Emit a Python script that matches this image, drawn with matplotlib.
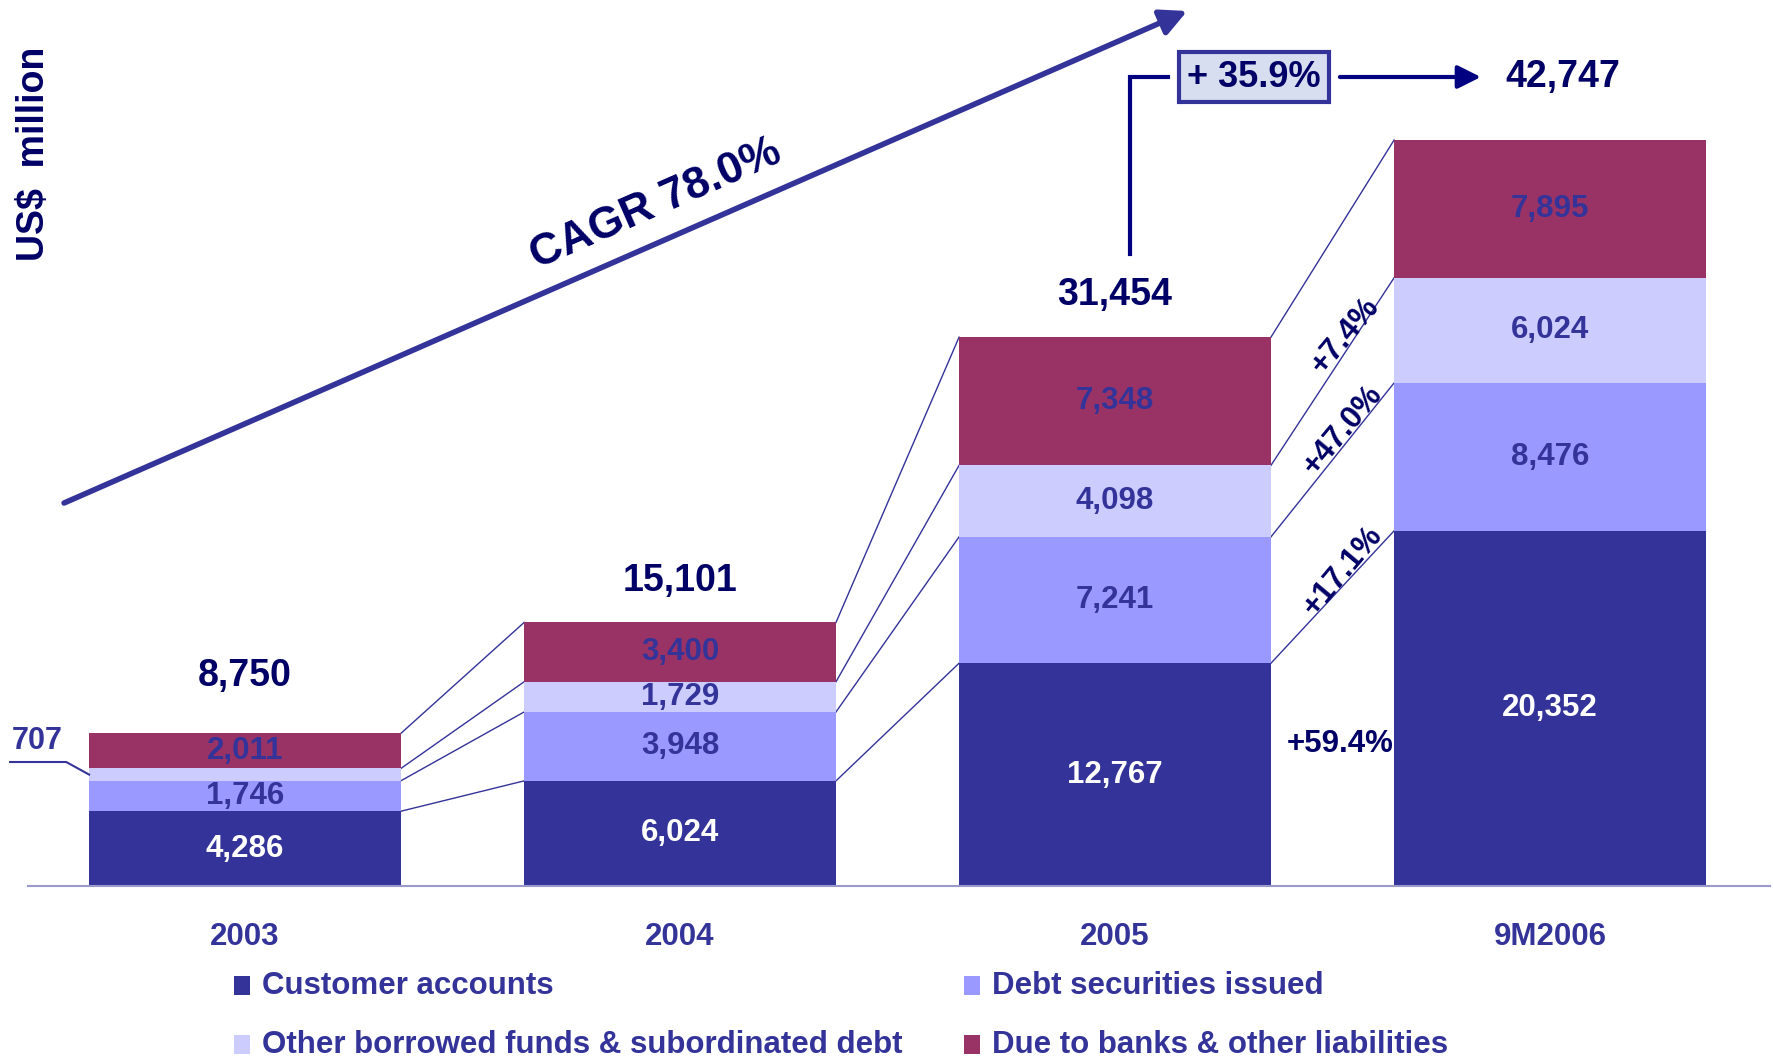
import numpy as np
import matplotlib.pyplot as plt
from matplotlib.patches import Rectangle

plt.rcParams['font.family'] = ['Liberation Sans', 'DejaVu Sans']
plt.rcParams['font.weight'] = 'bold'

# data
periods = ["2003", "2004", "2005", "9M2006"]
customer_accounts = [4286, 6024, 12767, 20352]
debt_securities = [1746, 3948, 7241, 8476]
other_borrowed = [707, 1729, 4098, 6024]
due_to_banks = [2011, 3400, 7348, 7895]
totals = ["8,750", "15,101", "31,454", "42,747"]
growth_labels = ["+59.4%", "+17.1%", "+47.0%", "+7.4%"]
cagr_label = "CAGR 78.0%"
period_growth = "+ 35.9%"

series_names = ["Customer accounts", "Debt securities issued",
                "Other borrowed funds & subordinated debt",
                "Due to banks & other liabilities"]
colors = ["#333399", "#9999FF", "#CCCCFF", "#993366"]
label_colors = ["white", "#333399", "#333399", "#333399"]
navy = "#000066"

series = [customer_accounts, debt_securities, other_borrowed, due_to_banks]

fig = plt.figure(figsize=(17.73, 10.60), dpi=100)
ax = fig.add_axes([28 / 1773, 174 / 1060, 1742 / 1773, 886 / 1060])

x = np.arange(len(periods))
width = 0.717
bottom = np.zeros(len(periods))
cum = [bottom.copy()]
for vals, c, lc in zip(series, colors, label_colors):
    vals = np.array(vals, dtype=float)
    ax.bar(x, vals, width, bottom=bottom, color=c, edgecolor='none', zorder=2)
    for i, v in enumerate(vals):
        if v > 1000:
            ax.text(x[i], bottom[i] + v / 2, f"{int(v):,}", ha='center', va='center',
                    color=lc, fontsize=22.5, fontweight='bold', zorder=3)
    bottom = bottom + vals
    cum.append(bottom.copy())

# connector lines between bars
for i in range(len(periods) - 1):
    for level in cum[1:]:
        ax.plot([x[i] + width / 2, x[i + 1] - width / 2], [level[i], level[i + 1]],
                color="#333399", lw=1, zorder=1)

# totals
offsets = [3300, 2400, 2400]
for i in range(3):
    ax.text(x[i], cum[-1][i] + offsets[i], totals[i], ha='center', va='center',
            color=navy, fontsize=27, fontweight='bold')

# 707 label with leader
mid707 = cum[2][0] + other_borrowed[0] / 2
ax.text(-0.478, 8309, f"{other_borrowed[0]:,}", ha='center', va='center',
        color="#333399", fontsize=22, fontweight='bold', clip_on=False)
ax.plot([-0.54, -0.411, x[0] - width / 2], [7106, 7106, mid707],
        color="#333399", lw=1.5, clip_on=False)

# growth labels 2005 -> 9M2006
ax.text(2.517, 8138, growth_labels[0], ha='center', va='center', color=navy,
        fontsize=22.5, fontweight='bold')
for lab, (gx, gy) in zip(growth_labels[1:], [(2.524, 18052), (2.524, 26132), (2.529, 31519)]):
    ax.text(gx, gy, lab, ha='center', va='center', color=navy, fontsize=22.5,
            fontweight='bold', rotation=50, rotation_mode='anchor')

# CAGR arrow
ax.annotate("", xy=(2.166, 50143), xytext=(-0.416, 21948),
            arrowprops=dict(arrowstyle='-|>', lw=4, color="#333399", mutation_scale=40,
                            shrinkA=0, shrinkB=0), annotation_clip=False)
ax.text(0.945, 39083, cagr_label, ha='center', va='center', rotation=23.7,
        rotation_mode='anchor', color=navy, fontsize=32, fontweight='bold')

# +35.9% box and arrow
ytop = 46361
ax.plot([2.034, 2.034, 2.122], [36218, ytop, ytop], color="#000080", lw=3,
        solid_joinstyle='miter')
ax.text(2.32, ytop, period_growth, ha='center', va='center', color=navy, fontsize=26,
        fontweight='bold',
        bbox=dict(boxstyle='square,pad=0.22', facecolor="#D6DEF0", edgecolor="#333399", lw=3))
ax.annotate("", xy=(2.841, ytop), xytext=(2.517, ytop),
            arrowprops=dict(arrowstyle='-|>', lw=3, color="#000080", mutation_scale=35,
                            shrinkA=0, shrinkB=0))
ax.text(3.03, ytop, totals[3], ha='center', va='center', color=navy, fontsize=27,
        fontweight='bold')

# axes styling
ax.set_xlim(-0.4989, 3.5057)
ax.set_ylim(0, 50774)
for s in ['top', 'right', 'left']:
    ax.spines[s].set_visible(False)
ax.spines['bottom'].set_color("#9999CC")
ax.spines['bottom'].set_linewidth(1.5)
ax.set_yticks([])
ax.set_xticks(x)
ax.set_xticklabels(periods, fontsize=22.5, fontweight='bold', color="#333399")
ax.tick_params(axis='x', length=0, pad=26)

fig.text(34 / 1773, 1 - 154 / 1060, "US$  million", rotation=90, ha='center', va='center',
         color=navy, fontsize=27, fontweight='bold')

# legend
legend_pos = [(242, 986), (972, 986), (242, 1045), (972, 1045)]
for name, c, (lx, ly) in zip(series_names, colors, legend_pos):
    fig.patches.append(Rectangle(((lx - 8) / 1773, 1 - (ly + 9) / 1060), 16 / 1773, 19 / 1060,
                                 transform=fig.transFigure, facecolor=c, edgecolor='none'))
    fig.text((lx + 20) / 1773, 1 - ly / 1060, name, ha='left', va='center',
             color="#333399", fontsize=22.5, fontweight='bold')

fig.savefig("out.png", dpi=100)
